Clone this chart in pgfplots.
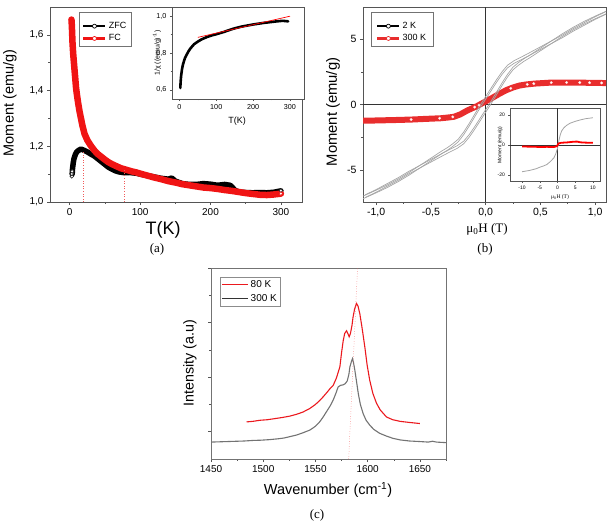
\documentclass[border=0pt]{standalone}
\usepackage{pgfplots}
\pgfplotsset{compat=1.18}
\usepackage{fontspec}
\setmainfont{Liberation Sans}
\newfontfamily\serif{Liberation Serif}

\definecolor{fcred}{RGB}{240,20,20}
\definecolor{loopgrey}{RGB}{165,165,165}
\definecolor{hotred}{RGB}{232,45,45}
\definecolor{ramanred}{RGB}{235,25,30}
\definecolor{ramangrey}{RGB}{115,115,115}
\definecolor{axgrey}{RGB}{85,85,85}
\definecolor{guide}{RGB}{240,90,90}

\pgfplotsset{
  panel/.style={
    scale only axis, anchor=north west,
    axis line style={axgrey, line width=0.6pt},
    tick style={axgrey, line width=0.5pt},
    tick align=outside, xtick pos=bottom, ytick pos=left,
    major tick length=3pt, minor tick length=1.8pt,
    /pgf/number format/assume math mode=true,
    /pgf/number format/1000 sep={},
    legend cell align=left,
  },
  commax/.style={xticklabel style={/pgf/number format/fixed, /pgf/number format/fixed zerofill, /pgf/number format/precision=1, /pgf/number format/use comma}},
  commay/.style={yticklabel style={/pgf/number format/fixed, /pgf/number format/fixed zerofill, /pgf/number format/precision=1, /pgf/number format/use comma}},
}

\begin{document}
\begin{tikzpicture}
\path[use as bounding box] (0,0) rectangle (609pt,-523pt);

% ---------------- (a) ZFC / FC magnetisation ----------------
\begin{axis}[panel, commay,
  at={(50pt,-7pt)}, width=252pt, height=195pt,
  xmin=-28, xmax=330, ymin=1.0, ymax=1.7,
  xtick={0,100,200,300}, minor xtick={50,150,250},
  ytick={1.0,1.2,1.4,1.6}, minor ytick={1.1,1.3,1.5},
  tick label style={font=\fontsize{10}{12}\selectfont},
  legend style={at={(0.115,0.974)}, anchor=north west, draw=black!55,
    font=\fontsize{9}{9}\selectfont, inner xsep=3pt, inner ysep=2pt, row sep=0.5pt},
  legend image code/.code={\draw[mark repeat=2,mark phase=2,#1] plot coordinates {(0pt,0pt)(11pt,0pt)(22pt,0pt)};},
]
\addlegendimage{empty legend}\addlegendentry{}
\addlegendimage{black, line width=2.6pt, mark=*, mark size=2pt, mark options={fill=white, draw=black, line width=0.7pt}}
\addlegendentry{ZFC}
\addlegendimage{fcred, line width=2.6pt, mark=*, mark size=2pt, mark options={fill=white, draw=fcred, line width=0.7pt}}
\addlegendentry{FC}

\addplot[black, line width=5.5pt, line join=round, line cap=round, forget plot] coordinates {
(3.5,1.10)(4,1.12)(5,1.14)(6,1.155)(8,1.17)(10,1.18)(13,1.186)(16,1.19)(20,1.186)(25,1.18)
(30,1.172)(35,1.165)(40,1.155)(45,1.145)(50,1.135)(55,1.125)(60,1.118)(65,1.112)(70,1.108)
(78,1.105)(85,1.106)(95,1.103)(100,1.10)(110,1.095)(120,1.09)(130,1.085)(140,1.082)(145,1.086)
(150,1.075)(160,1.066)(170,1.063)(180,1.063)(190,1.066)(200,1.064)(210,1.06)(220,1.063)
(228,1.06)(235,1.042)(240,1.036)(250,1.034)(260,1.033)(270,1.034)(280,1.033)(290,1.035)(300,1.04)};
\addplot[fcred, line width=6.5pt, line join=round, line cap=round, forget plot] coordinates {
(2.5,1.655)(3,1.635)(4,1.57)(5,1.53)(6,1.50)(7,1.47)(8,1.44)(9,1.41)(10,1.39)(12,1.355)
(14,1.325)(16,1.30)(18,1.275)(21,1.245)(25,1.222)(30,1.202)(35,1.185)(40,1.172)(45,1.162)
(50,1.152)(55,1.143)(60,1.136)(65,1.13)(73,1.121)(80,1.116)(88,1.11)(95,1.106)(100,1.102)
(110,1.095)(120,1.088)(130,1.082)(140,1.075)(150,1.07)(160,1.064)(170,1.06)(180,1.056)
(190,1.052)(200,1.05)(210,1.047)(220,1.043)(230,1.04)(240,1.036)(250,1.032)(260,1.029)
(270,1.026)(280,1.025)(290,1.027)(300,1.03)};
\addplot[only marks, mark=*, mark size=1.8pt, mark options={fill=white, draw=black!85, line width=0.6pt}, forget plot]
  coordinates {(3,1.092)(3,1.101)(3.5,1.11)(300,1.041)};
\addplot[only marks, mark=*, mark size=1.8pt, mark options={fill=white, draw=fcred, line width=0.6pt}, forget plot]
  coordinates {(300,1.03)};
\addplot[guide, dotted, line width=0.6pt, forget plot] coordinates {(19,1.0)(19,1.183)};
\addplot[guide, dotted, line width=0.6pt, forget plot] coordinates {(77,1.0)(77,1.115)};
\end{axis}

% inset: inverse susceptibility
\begin{axis}[panel, commay,
  at={(172pt,-7pt)}, width=132pt, height=92pt,
  axis background/.style={fill=white},
  xmin=-20, xmax=338, ymin=0.55, ymax=1.05,
  xtick={0,100,200,300}, minor xtick={50,150,250},
  ytick={0.6,0.8,1.0}, minor ytick={0.7,0.9},
  major tick length=2.2pt, minor tick length=1.3pt,
  tick label style={font=\fontsize{7.2}{8}\selectfont},
]
\addplot[black, line width=2.6pt, line join=round, line cap=round] coordinates {
(2.5,0.61)(3,0.63)(4,0.66)(5,0.68)(7,0.71)(10,0.74)(15,0.772)(20,0.792)(25,0.81)(30,0.825)
(40,0.848)(50,0.862)(60,0.874)(75,0.887)(90,0.897)(100,0.902)(120,0.914)(140,0.928)
(150,0.934)(170,0.944)(200,0.955)(230,0.964)(260,0.971)(280,0.975)(295,0.972)};
\addplot[red, line width=0.7pt] coordinates {(50,0.885)(300,1.0)};
\end{axis}

\node[rotate=90, font=\fontsize{7}{8}\selectfont] at (157pt,-53pt) {1/χ ((emu/g)\textsuperscript{-1})};
\node[font=\fontsize{9}{10}\selectfont] at (237pt,-121pt) {T(K)};
\node[rotate=90, font=\fontsize{14.5}{16}\selectfont] at (10pt,-103pt) {Moment (emu/g)};
\node[font=\fontsize{18}{20}\selectfont] at (163pt,-230pt) {T(K)};
\node[font=\serif\fontsize{13}{15}\selectfont] at (157pt,-249pt) {(a)};

% ---------------- (b) hysteresis loops ----------------
\begin{axis}[panel, commax,
  at={(363pt,-7pt)}, width=243pt, height=195pt,
  xmin=-1.12, xmax=1.1, ymin=-7.45, ymax=7.45,
  xtick={-1,-0.5,0,0.5,1}, minor xtick={-0.75,-0.25,0.25,0.75},
  ytick={-5,0,5}, minor ytick={-2.5,2.5},
  tick label style={font=\fontsize{10.5}{12}\selectfont},
  legend style={at={(0.033,0.974)}, anchor=north west, draw=black!55,
    font=\fontsize{9}{9}\selectfont, inner xsep=5pt, inner ysep=2pt, row sep=0.5pt},
  legend image code/.code={\draw[mark repeat=2,mark phase=2,#1] plot coordinates {(0pt,0pt)(11pt,0pt)(22pt,0pt)};},
]
\addlegendimage{empty legend}\addlegendentry{}
\addlegendimage{black, line width=2.4pt, mark=*, mark size=2pt, mark options={fill=white, draw=black, line width=0.7pt}}
\addlegendentry{2 K}
\addlegendimage{hotred, line width=2.4pt, mark=*, mark size=2pt, mark options={fill=white, draw=hotred, line width=0.7pt}}
\addlegendentry{300 K}

\draw[black!80, line width=0.6pt] (axis cs:0,-7.45) -- (axis cs:0,7.45);
\draw[black!80, line width=0.6pt] (axis cs:-1.12,0) -- (axis cs:1.1,0);

\addplot[hotred, line width=6pt, line join=round, forget plot] coordinates {
(-1.12,-1.24)(-1.0,-1.22)(-0.9,-1.2)(-0.8,-1.18)(-0.68,-1.15)(-0.55,-1.1)(-0.41,-1.05)
(-0.35,-1.0)(-0.29,-0.94)(-0.23,-0.75)(-0.17,-0.47)(-0.12,-0.28)(-0.08,-0.13)(-0.03,0.1)
(0.01,0.28)(0.07,0.55)(0.13,0.84)(0.19,1.1)(0.25,1.3)(0.31,1.45)(0.37,1.53)(0.45,1.6)
(0.61,1.68)(0.8,1.68)(1.0,1.65)(1.1,1.64)};

% 2 K loop: descending and ascending branches, two sweeps each
\addplot[loopgrey, line width=0.7pt, forget plot] coordinates {
(-1.12,-7.0)(-1.0,-6.55)(-0.9,-6.15)(-0.8,-5.7)(-0.7,-5.2)(-0.6,-4.65)(-0.5,-4.1)(-0.4,-3.55)
(-0.35,-3.3)(-0.3,-3.0)(-0.25,-2.65)(-0.2,-2.1)(-0.15,-1.45)(-0.1,-0.75)(-0.05,-0.05)(0.0,0.6)
(0.05,1.25)(0.1,1.9)(0.15,2.5)(0.2,3.0)(0.26,3.35)(0.32,3.6)(0.4,3.95)(0.5,4.4)(0.6,4.85)
(0.7,5.3)(0.8,5.8)(0.9,6.25)(1.0,6.7)(1.1,7.1)};
\addplot[loopgrey, line width=0.7pt, forget plot] coordinates {
(1.12,7.0)(1.0,6.55)(0.9,6.15)(0.8,5.7)(0.7,5.2)(0.6,4.65)(0.5,4.1)(0.4,3.55)
(0.35,3.3)(0.3,3.0)(0.25,2.65)(0.2,2.1)(0.15,1.45)(0.1,0.75)(0.05,0.05)(0.0,-0.6)
(-0.05,-1.25)(-0.1,-1.9)(-0.15,-2.5)(-0.2,-3.0)(-0.26,-3.35)(-0.32,-3.6)(-0.4,-3.95)(-0.5,-4.4)
(-0.6,-4.85)(-0.7,-5.3)(-0.8,-5.8)(-0.9,-6.25)(-1.0,-6.7)(-1.1,-7.1)};
\addplot[loopgrey, line width=0.7pt, forget plot] coordinates {
(-1.12,-7.2)(-1.0,-6.75)(-0.9,-6.35)(-0.8,-5.9)(-0.7,-5.4)(-0.6,-4.85)(-0.5,-4.3)(-0.4,-3.75)
(-0.35,-3.5)(-0.3,-3.2)(-0.25,-2.85)(-0.2,-2.3)(-0.15,-1.65)(-0.1,-0.95)(-0.05,-0.25)(0.0,0.4)
(0.05,1.05)(0.1,1.7)(0.15,2.3)(0.2,2.8)(0.26,3.15)(0.32,3.4)(0.4,3.75)(0.5,4.2)(0.6,4.65)
(0.7,5.1)(0.8,5.6)(0.9,6.05)(1.0,6.5)(1.1,6.9)};
\addplot[loopgrey, line width=0.7pt, forget plot] coordinates {
(1.12,7.2)(1.0,6.75)(0.9,6.35)(0.8,5.9)(0.7,5.4)(0.6,4.85)(0.5,4.3)(0.4,3.75)
(0.35,3.5)(0.3,3.2)(0.25,2.85)(0.2,2.3)(0.15,1.65)(0.1,0.95)(0.05,0.25)(0.0,-0.4)
(-0.05,-1.05)(-0.1,-1.7)(-0.15,-2.3)(-0.2,-2.8)(-0.26,-3.15)(-0.32,-3.4)(-0.4,-3.75)(-0.5,-4.2)
(-0.6,-4.65)(-0.7,-5.1)(-0.8,-5.6)(-0.9,-6.05)(-1.0,-6.5)(-1.1,-6.9)};

\addplot[only marks, mark=*, mark size=1.3pt, mark options={fill=white, draw=white!80!hotred, line width=0.3pt}, forget plot] coordinates {
(-0.68,-1.15)(-0.42,-1.05)(-0.3,-0.95)(-0.1,-0.2)(-0.06,-0.05)(0.23,1.23)(0.38,1.54)
(0.44,1.59)(0.6,1.67)(0.74,1.68)(0.86,1.68)(0.95,1.67)(1.06,1.65)};
\end{axis}

% inset: full field range
\begin{axis}[panel,
  at={(510pt,-108pt)}, width=90pt, height=73pt,
  axis background/.style={fill=white},
  xmin=-13.4, xmax=12, ymin=-24, ymax=24.7,
  xtick={-10,-5,0,5,10}, ytick={-20,0,20},
  major tick length=1.6pt,
  tick label style={font=\fontsize{5}{6}\selectfont},
]
\draw[black!80, line width=0.5pt] (axis cs:0,-24) -- (axis cs:0,24.7);
\draw[black!80, line width=0.5pt] (axis cs:-13.4,0) -- (axis cs:12,0);
\addplot[loopgrey, line width=0.8pt] coordinates {
(-10,-17.8)(-8,-17.0)(-6,-15.8)(-5,-14.8)(-4,-14.0)(-3,-13.0)(-2,-11.0)(-1,-8.5)(-0.5,-6.0)
(0,-2.2)(0.4,3.0)(0.8,7.0)(1.2,9.5)(1.8,11.5)(2.5,13.0)(3.5,14.5)(5,15.8)(6.5,16.8)(8,17.6)(10,18.2)};
\addplot[red, line width=1.8pt] coordinates {
(-10,-1.0)(-7,-1.1)(-5,-1.3)(-3,-1.2)(-1,-1.3)(-0.2,-0.8)(0.3,1.0)(1,1.5)(3,1.8)(4.5,2.2)
(5.5,2.3)(6.5,1.8)(8,1.6)(10,1.5)};
\end{axis}
\node[rotate=90, font=\fontsize{5}{6}\selectfont] at (500pt,-145pt) {Moment (emu/g)};
\node[font=\serif\fontsize{5.5}{6}\selectfont] at (560pt,-197pt) {μ\textsubscript{0}H (T)};

\node[rotate=90, font=\fontsize{14.8}{16}\selectfont] at (333pt,-112pt) {Moment (emu/g)};
\node[font=\serif\fontsize{13}{15}\selectfont] at (487pt,-229pt) {μ\textsubscript{0}H (T)};
\node[font=\serif\fontsize{13}{15}\selectfont] at (485pt,-249pt) {(b)};

% ---------------- (c) Raman G band ----------------
\begin{axis}[panel,
  at={(211pt,-268pt)}, width=235pt, height=191pt,
  xmin=1450, xmax=1675, ymin=0, ymax=3.5,
  xtick={1450,1500,1550,1600,1650}, minor xtick={1475,1525,1575,1625,1675},
  ytick={0.5,1.5,2.5,3.5}, yticklabels={}, minor ytick={1,2,3},
  axis line style={black!55, line width=0.6pt},
  tick label style={font=\fontsize{10}{12}\selectfont},
  legend style={at={(0.038,0.953)}, anchor=north west, draw=black!45,
    font=\fontsize{10}{10}\selectfont, inner xsep=1.5pt, inner ysep=1.5pt, row sep=1pt},
  legend image code/.code={\draw[#1] (0pt,0pt) -- (26pt,0pt);},
]
\addlegendimage{ramanred, line width=1.1pt}\addlegendentry{80 K}
\addlegendimage{black!80, line width=1.1pt}\addlegendentry{300 K}

\addplot[ramangrey, line width=1.1pt, forget plot] coordinates {
(1450,0.31)(1458,0.315)(1466,0.32)(1474,0.325)(1482,0.33)(1490,0.34)(1498,0.345)(1506,0.355)
(1514,0.37)(1520,0.385)(1525.5,0.41)(1532,0.44)(1538,0.48)(1544.6,0.53)(1550,0.6)(1554,0.68)
(1557.4,0.77)(1561,0.88)(1564,0.97)(1567,1.08)(1569.5,1.2)(1571.7,1.32)(1574,1.35)(1576.6,1.36)
(1578.5,1.38)(1580.4,1.43)(1582,1.55)(1583,1.69)(1584.5,1.79)(1585.5,1.84)(1586.5,1.76)
(1587.7,1.63)(1589.5,1.4)(1591,1.2)(1593,1.0)(1595.7,0.83)(1598.5,0.71)(1602,0.62)(1606,0.54)
(1611.6,0.47)(1618,0.42)(1624,0.38)(1631,0.35)(1640,0.33)(1650,0.32)(1658,0.31)(1662,0.325)
(1666,0.31)(1675,0.3)};
\addplot[ramanred, line width=1.1pt, forget plot] coordinates {
(1484,0.68)(1490,0.69)(1497,0.71)(1504,0.72)(1511,0.74)(1518,0.76)(1525.5,0.786)(1532,0.82)
(1538,0.86)(1544.6,0.926)(1550,1.0)(1554,1.07)(1557.4,1.14)(1561,1.22)(1564,1.29)(1567,1.35)
(1570,1.48)(1573.4,1.69)(1575,1.95)(1576.6,2.17)(1578,2.3)(1579.8,2.35)(1581,2.3)(1582.3,2.24)
(1583.5,2.3)(1585,2.45)(1586,2.6)(1587.5,2.75)(1589.3,2.85)(1590.8,2.8)(1592.5,2.66)
(1594.5,2.42)(1597.3,2.05)(1599.5,1.72)(1602,1.44)(1605,1.2)(1608.5,1.02)(1612,0.9)
(1618,0.77)(1624,0.72)(1631,0.69)(1640,0.67)(1645,0.66)(1650,0.65)};
\addplot[guide, dotted, line width=0.5pt, forget plot] coordinates {(1581.8,0)(1590.3,3.5)};
\end{axis}

\node[rotate=90, font=\fontsize{14.3}{16}\selectfont] at (190pt,-363pt) {Intensity (a.u)};
\node[font=\fontsize{14.5}{16}\selectfont] at (328pt,-490pt) {Wavenumber (cm\textsuperscript{-1})};
\node[font=\serif\fontsize{13}{15}\selectfont] at (317pt,-515pt) {(c)};
\end{tikzpicture}
\end{document}
